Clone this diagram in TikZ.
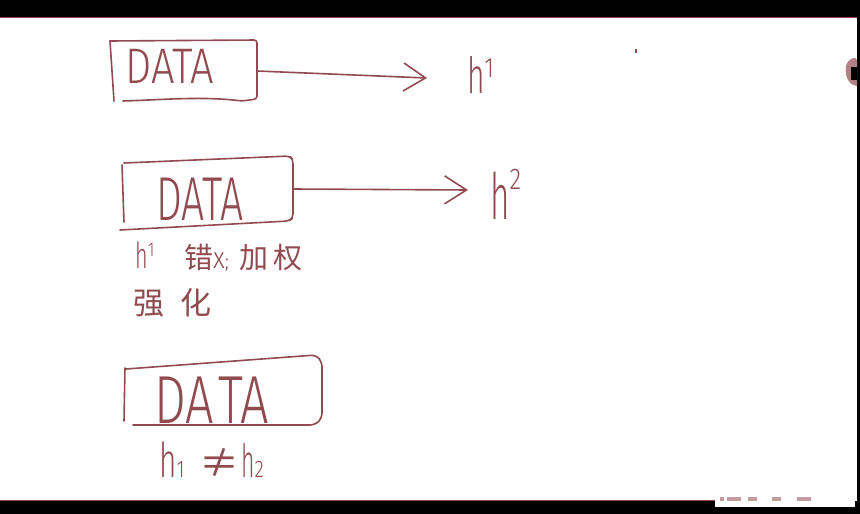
\documentclass[tikz,border=0pt]{standalone}
\usepackage{fontspec}
\setmainfont{Noto Sans CJK SC}
\IfFontExistsTF{Fira Sans Light}{\newfontfamily\handlat{Fira Sans Light}}{%
 \IfFontExistsTF{Fira Sans ExtraLight}{\newfontfamily\handlat{Fira Sans ExtraLight}}{%
  \IfFontExistsTF{Lato Light}{\newfontfamily\handlat{Lato Light}}{%
   \IfFontExistsTF{Open Sans Light}{\newfontfamily\handlat{Open Sans Light}}{%
    \IfFontExistsTF{DejaVu Sans ExtraLight}{\newfontfamily\handlat{DejaVu Sans ExtraLight}}{%
     \newfontfamily\handlat{Fira Sans}}}}}}
\usetikzlibrary{arrows.meta}
\definecolor{ink}{RGB}{145,74,80}
\newcommand{\inkw}[3]{\scalebox{#2}[1]{\handlat\fontsize{#1}{#1}\selectfont #3}}
\newcommand{\cjkw}[2]{{\fontsize{#1}{#1}\selectfont #2}}
\begin{document}
\begin{tikzpicture}[x=1pt,y=-1pt,
  inkline/.style={draw=ink,line width=1.6pt,line cap=round,line join=round},
  anchorbox/.style={draw=none,inner sep=0pt},
  hand/.style={text=ink,inner sep=0pt},
  arr/.style={inkline,-{Straight Barb[length=22pt,width=28pt,line width=1.6pt]}}]
\useasboundingbox (0,0) rectangle (860,514);
% frame of the screen
\fill[black] (0,0) rectangle (860,17);
\fill[black] (0,501) rectangle (860,514);
\fill[black] (857,0) rectangle (860,514);
\fill[white] (715,492) rectangle (855,507);
\draw[ink,line width=0.5pt] (0,17.5) -- (857,17.5);
\draw[ink,line width=0.5pt] (0,500.5) -- (715,500.5);
% small marks
\fill[ink] (634.5,49) rectangle (636.5,53);
\fill[ink!70] (846,66) .. controls (848,58) and (856,56) .. (857,60) -- (857,86) .. controls (852,86) and (844,80) .. (846,66) -- cycle;
\fill[black] (851,67) rectangle (857,80);
\foreach \xx/\ww in {720/4,727/14,748/9,772/9,797/14}{\fill[ink!55] (\xx,497) rectangle ++(\ww,4);}

% ---- box 1 ----
\node[anchorbox,minimum width=146pt,minimum height=60pt] (box1) at (184,71) {};
\draw[inkline,rounded corners=3pt] (110,41) -- (257,40) -- (257,99) -- (242,101) .. controls (200,96) and (160,100) .. (123,101);
\draw[inkline] (110,41) -- (114,101);
\node[hand,anchor=base west] (data1) at (125,83) {\inkw{50}{0.83}{DATA}};
\node[hand,anchor=base west] (h1) at (467,93) {\inkw{50}{0.6}{h}\raisebox{16pt}{\inkw{28}{0.8}{1}}};
\draw[arr] (box1.east) -- (427,78);

% ---- box 2 ----
\node[anchorbox,minimum width=171pt,minimum height=64pt] (box2) at (207.5,189) {};
\draw[inkline,rounded corners=4pt] (124,163) -- (290,156) -- (293,160) -- (293,218) -- (289,221) -- (120,230);
\draw[inkline] (122,165) -- (124,222);
\node[hand,anchor=base west] (data2) at (156,220) {\inkw{62}{0.66}{DATA}};
\node[hand,anchor=base west] (h2) at (490,219) {\inkw{64}{0.52}{h}\raisebox{30pt}{\inkw{30}{0.8}{2}}};
\draw[arr] (box2.east) -- (468,190);

\node[hand,anchor=base west] (note1) at (135,268) {\makebox[49pt][l]{\inkw{36}{0.6}{h}\raisebox{12pt}{\inkw{20}{0.8}{1}}}\makebox[29pt][l]{\cjkw{29}{错}}\makebox[26pt][l]{\inkw{30}{0.85}{x}\inkw{20}{1}{;}}\makebox[34pt][l]{\cjkw{29}{加}}\cjkw{29}{权}};
\node[hand,anchor=base west] (note2) at (133,314) {\makebox[47pt][l]{\cjkw{31}{强}}\cjkw{31}{化}};

% ---- box 3 ----
\node[anchorbox,minimum width=196pt,minimum height=62pt] (box3) at (224,392) {};
\draw[inkline,rounded corners=5pt] (126,369) -- (316,355) -- (322,362) -- (322,418) -- (315,425) -- (133,425);
\draw[inkline] (125,368) -- (124,421);
\node[hand,anchor=base west] (data3) at (154,423) {\inkw{68}{0.74}{DA\hspace{6pt}TA}};
\node[hand,anchor=base west] (sum) at (159,477) {\makebox[40pt][l]{\inkw{48}{0.62}{h}\inkw{24}{0.8}{1}}\makebox[42pt][l]{\cjkw{40}{≠}}\inkw{46}{0.5}{h}\inkw{24}{0.8}{2}};
\end{tikzpicture}
\end{document}
